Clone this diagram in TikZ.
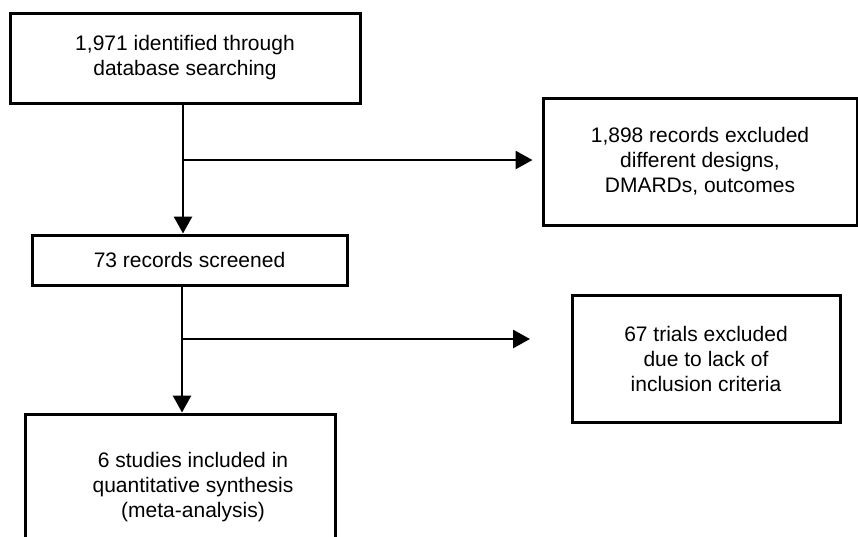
\documentclass[tikz,border=0pt]{standalone}
\usepackage{fontspec}
\setmainfont{Liberation Sans}
\usetikzlibrary{arrows.meta}
\begin{document}
\begin{tikzpicture}[x=1pt,y=-1pt,
  box/.style={draw=black, line width=3pt, rectangle, align=center, inner sep=0pt,
    font=\fontsize{21}{25}\selectfont},
  conn/.style={draw=black, line width=2.8pt, -{Triangle[length=17pt,width=18pt]}},
  seg/.style={draw=black, line width=2.8pt}]
\useasboundingbox (0,0) rectangle (858,536);
\clip (0,0) rectangle (858,536);
\node[box, minimum width=350pt, minimum height=90pt] (b1) at (185,58) {1,971 identified through\\database searching};
\node[box, minimum width=314pt, minimum height=127pt] (b2) at (700,161.5) {1,898 records excluded\\different designs,\\DMARDs, outcomes};
\node[box, minimum width=315pt, minimum height=50pt] (b3) at (189.5,260) {73 records screened};
\node[box, minimum width=268pt, minimum height=127pt] (b4) at (706,358.5) {67 trials excluded\\due to lack of\\inclusion criteria};
\node[box, minimum width=310pt, minimum height=146pt] (b5) at (180,487) {\hspace*{26pt}6 studies included in\\\hspace*{26pt}quantitative synthesis\\\hspace*{26pt}(meta-analysis)};
\coordinate (j1) at (183,160);
\coordinate (j2) at (182,339);
\coordinate (e2) at (530,339);
\draw[conn] (b1.south -| j1) -- (b3.north -| j1);
\draw[conn, shorten >=9pt] (j1) -- (b2.west |- j1);
\draw[conn] (b3.south -| j2) -- (b5.north -| j2);
\draw[conn] (j2) -- (e2);
\end{tikzpicture}
\end{document}
